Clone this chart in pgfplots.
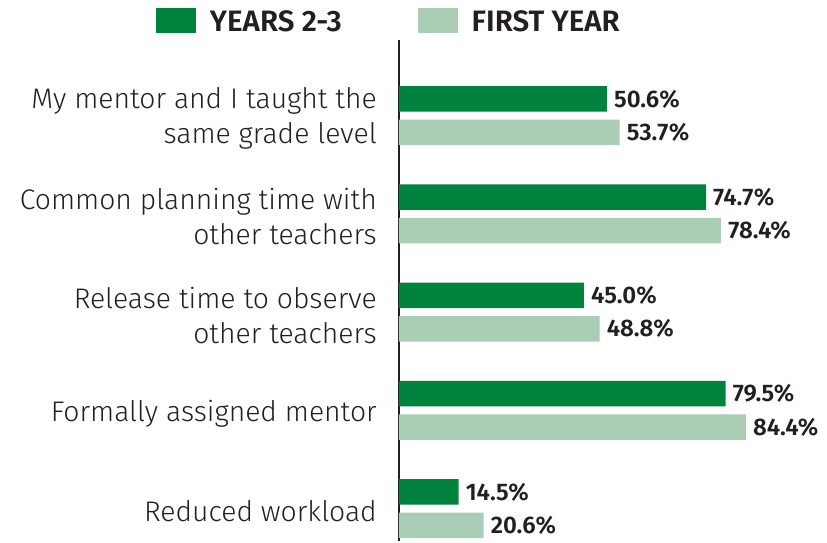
\documentclass[border=0pt]{standalone}
\usepackage{pgfplots}
\pgfplotsset{compat=1.18}
\usepackage{fontspec}
\setmainfont{Fira Sans}[UprightFont=* Light]
\definecolor{dkgreen}{HTML}{00843D}
\definecolor{ltgreen}{HTML}{A9CDB5}
\definecolor{txt}{HTML}{231F20}
\begin{document}
\begin{tikzpicture}
\begin{axis}[name=ax,
 scale only axis, width=411pt, height=501pt,
 xmin=0, xmax=100, ymin=-0.77, ymax=4.33, y dir=reverse,
 axis x line=none, axis y line=left,
 axis line style={-, line width=2.4pt, color=txt},
 ytick={0,1,2,3,4}, major tick length=0pt,
 yticklabels={{My mentor and I taught the\\same grade level},{Common planning time with\\other teachers},{Release time to observe\\other teachers},{Formally assigned mentor},{Reduced workload}},
 yticklabel style={align=right, font=\fontsize{28.3}{35}\selectfont, text=txt, inner sep=0pt, xshift=-22pt, yshift=-3pt},
 xbar, bar width=0.26,
 clip=false,
 /pgf/number format/assume math mode=true,
 nodes near coords={\pgfmathprintnumber[fixed,fixed zerofill,precision=1]{\pgfplotspointmeta}\%},
 every node near coord/.append style={font=\bfseries\fontsize{24}{25}\selectfont, text=txt, anchor=west, inner sep=0pt, xshift=7pt},
 legend style={at={(-0.027,1)}, anchor=south, draw=none, fill=none, inner sep=0pt, yshift=7pt, font=\bfseries\fontsize{29.5}{30}\selectfont, text=txt, legend columns=2, nodes={inner sep=0pt}, /tikz/every odd column/.append style={column sep=14pt}, /tikz/every even column/.append style={column sep=76pt}},
]
\addplot[fill=dkgreen, draw=none, bar shift=-0.17, legend image code/.code={\fill[dkgreen] (0pt,-11pt) rectangle (40pt,14pt);}] coordinates {(50.6,0) (74.7,1) (45.0,2) (79.5,3) (14.5,4)};
\addlegendentry{YEARS 2-3}
\addplot[fill=ltgreen, draw=none, bar shift=0.17, legend image code/.code={\fill[ltgreen] (0pt,-11pt) rectangle (40pt,14pt);}] coordinates {(53.7,0) (78.4,1) (48.8,2) (84.4,3) (20.6,4)};
\addlegendentry{FIRST YEAR}
\end{axis}
\path (ax.south west) ++(-399pt,0pt) rectangle ++(827pt,541pt);
\end{tikzpicture}
\end{document}
